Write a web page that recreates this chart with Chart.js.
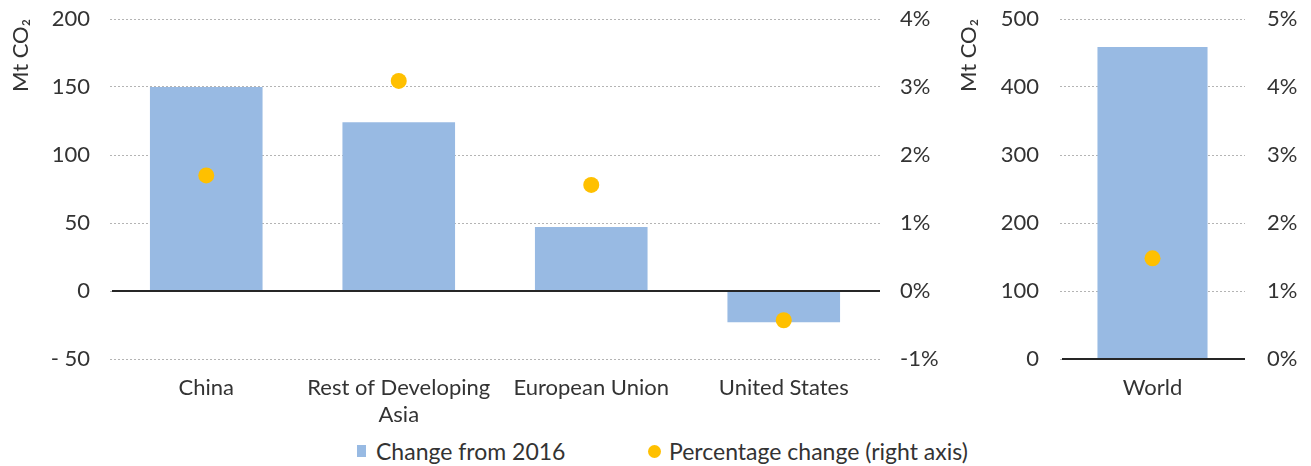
<!DOCTYPE html>
<html>
<head>
<meta charset="utf-8">
<script src="https://cdn.jsdelivr.net/npm/chart.js@4.4.1/dist/chart.umd.min.js"></script>
<style>
  html, body { margin:0; padding:0; background:#fff; }
  body { width:1311px; height:466px; position:relative; overflow:hidden; font-family:Lato, sans-serif; }
  #leftWrap { position:absolute; left:0; top:0; width:945px; height:430px; }
  #rightWrap { position:absolute; left:945px; top:0; width:366px; height:430px; }
  #legend { position:absolute; left:0; top:437px; width:1311px; height:28px; font-size:23px; color:#333; }
  .item { position:absolute; top:0; height:28px; line-height:28px; white-space:nowrap; }
  .sq { position:absolute; width:9px; height:12px; background:#98BAE3; top:8px; }
  .dot { position:absolute; width:13px; height:13px; border-radius:50%; background:#FFC000; top:8px; }
</style>
</head>
<body>
<div id="leftWrap"><canvas id="left"></canvas></div>
<div id="rightWrap"><canvas id="right"></canvas></div>
<div id="legend">
  <span class="sq" style="left:357px"></span><span class="item" style="left:376px">Change from 2016</span>
  <span class="dot" style="left:648px"></span><span class="item" style="left:669px">Percentage change (right axis)</span>
</div>
<script>
// ---- data ----
const regionLabels = ['China', ['Rest of Developing', 'Asia'], 'European Union', 'United States'];
const regionChange = [150, 124, 47, -23];          // Mt CO2
const regionPct = [1.70, 3.09, 1.56, -0.43];      // %
const worldLabels = ['World'];
const worldChange = [459];
const worldPct = [1.48];
const leftTicks = { min: -50, max: 200, step: 50 };
const leftPctTicks = { min: -1, max: 4, step: 1 };
const rightTicks = { min: 0, max: 500, step: 100 };
const rightPctTicks = { min: 0, max: 5, step: 1 };

const BAR = '#98BAE3', DOT = '#FFC000', TXT = '#333333';
Chart.defaults.font.family = 'Lato, sans-serif';
Chart.defaults.font.size = 22;
Chart.defaults.color = TXT;
Chart.defaults.animation = false;

const zeroLine = {
  id: 'zeroLine',
  afterDatasetsDraw(chart) {
    const y = chart.scales.y.getPixelForValue(0);
    const ctx = chart.ctx, a = chart.chartArea;
    ctx.save();
    ctx.strokeStyle = '#262626';
    ctx.lineWidth = 2;
    ctx.beginPath();
    ctx.moveTo(a.left + 2, y);
    ctx.lineTo(a.right, y);
    ctx.stroke();
    ctx.restore();
  }
};

function fitV(w) {
  return function (s) { s.width = w; s.paddingTop = 0; s.paddingBottom = 0; };
}

function build(id, labels, change, pct, t, pt, opts) {
  return new Chart(document.getElementById(id), {
    type: 'bar',
    data: {
      labels: labels,
      datasets: [
        { type: 'line', label: 'Percentage change (right axis)', data: pct, yAxisID: 'y1',
          showLine: false, pointRadius: 8, pointHoverRadius: 8, pointBackgroundColor: DOT,
          pointBorderWidth: 0, borderColor: DOT, backgroundColor: DOT, order: 0 },
        { type: 'bar', label: 'Change from 2016', data: change, yAxisID: 'y',
          backgroundColor: BAR, borderWidth: 0, categoryPercentage: 1, barPercentage: opts.barPct, order: 1 }
      ]
    },
    options: {
      responsive: true, maintainAspectRatio: false,
      layout: { padding: { top: 19, left: 0, right: 0, bottom: 0 } },
      plugins: { legend: { display: false }, tooltip: { enabled: false } },
      scales: {
        x: {
          grid: { display: false }, border: { display: false },
          ticks: { padding: 8, maxRotation: 0, autoSkip: false, font: { size: 22, lineHeight: 1.2 } },
          afterFit(s) { s.height = 71; s.paddingLeft = 0; s.paddingRight = 0; }
        },
        y: {
          position: 'left', min: t.min, max: t.max,
          ticks: { stepSize: t.step, padding: opts.lpad, callback: v => v < 0 ? '- ' + Math.abs(v) : String(v) },
          grid: { color: '#b4b4b4', lineWidth: 1, drawTicks: false },
          border: { display: false, dash: [2, 2] },
          title: { display: true, text: 'Mt CO₂', align: 'end', padding: { top: opts.tpad, bottom: 0 }, font: { size: 22, lineHeight: 1.2 } },
          afterFit: fitV(opts.lw)
        },
        y1: {
          position: 'right', min: pt.min, max: pt.max,
          ticks: { stepSize: pt.step, padding: opts.rpad, callback: v => v + '%' },
          grid: { display: false, drawTicks: false }, border: { display: false },
          afterFit: fitV(opts.rw)
        }
      }
    },
    plugins: [zeroLine]
  });
}

build('left', regionLabels, regionChange, regionPct, leftTicks, leftPctTicks,
      { barPct: 0.585, lw: 110, rw: 65, lpad: 20, rpad: 20, tpad: 8 });
build('right', worldLabels, worldChange, worldPct, rightTicks, rightPctTicks,
      { barPct: 0.595, lw: 115, rw: 66, lpad: 21, rpad: 22, tpad: 11 });
</script>
</body>
</html>
